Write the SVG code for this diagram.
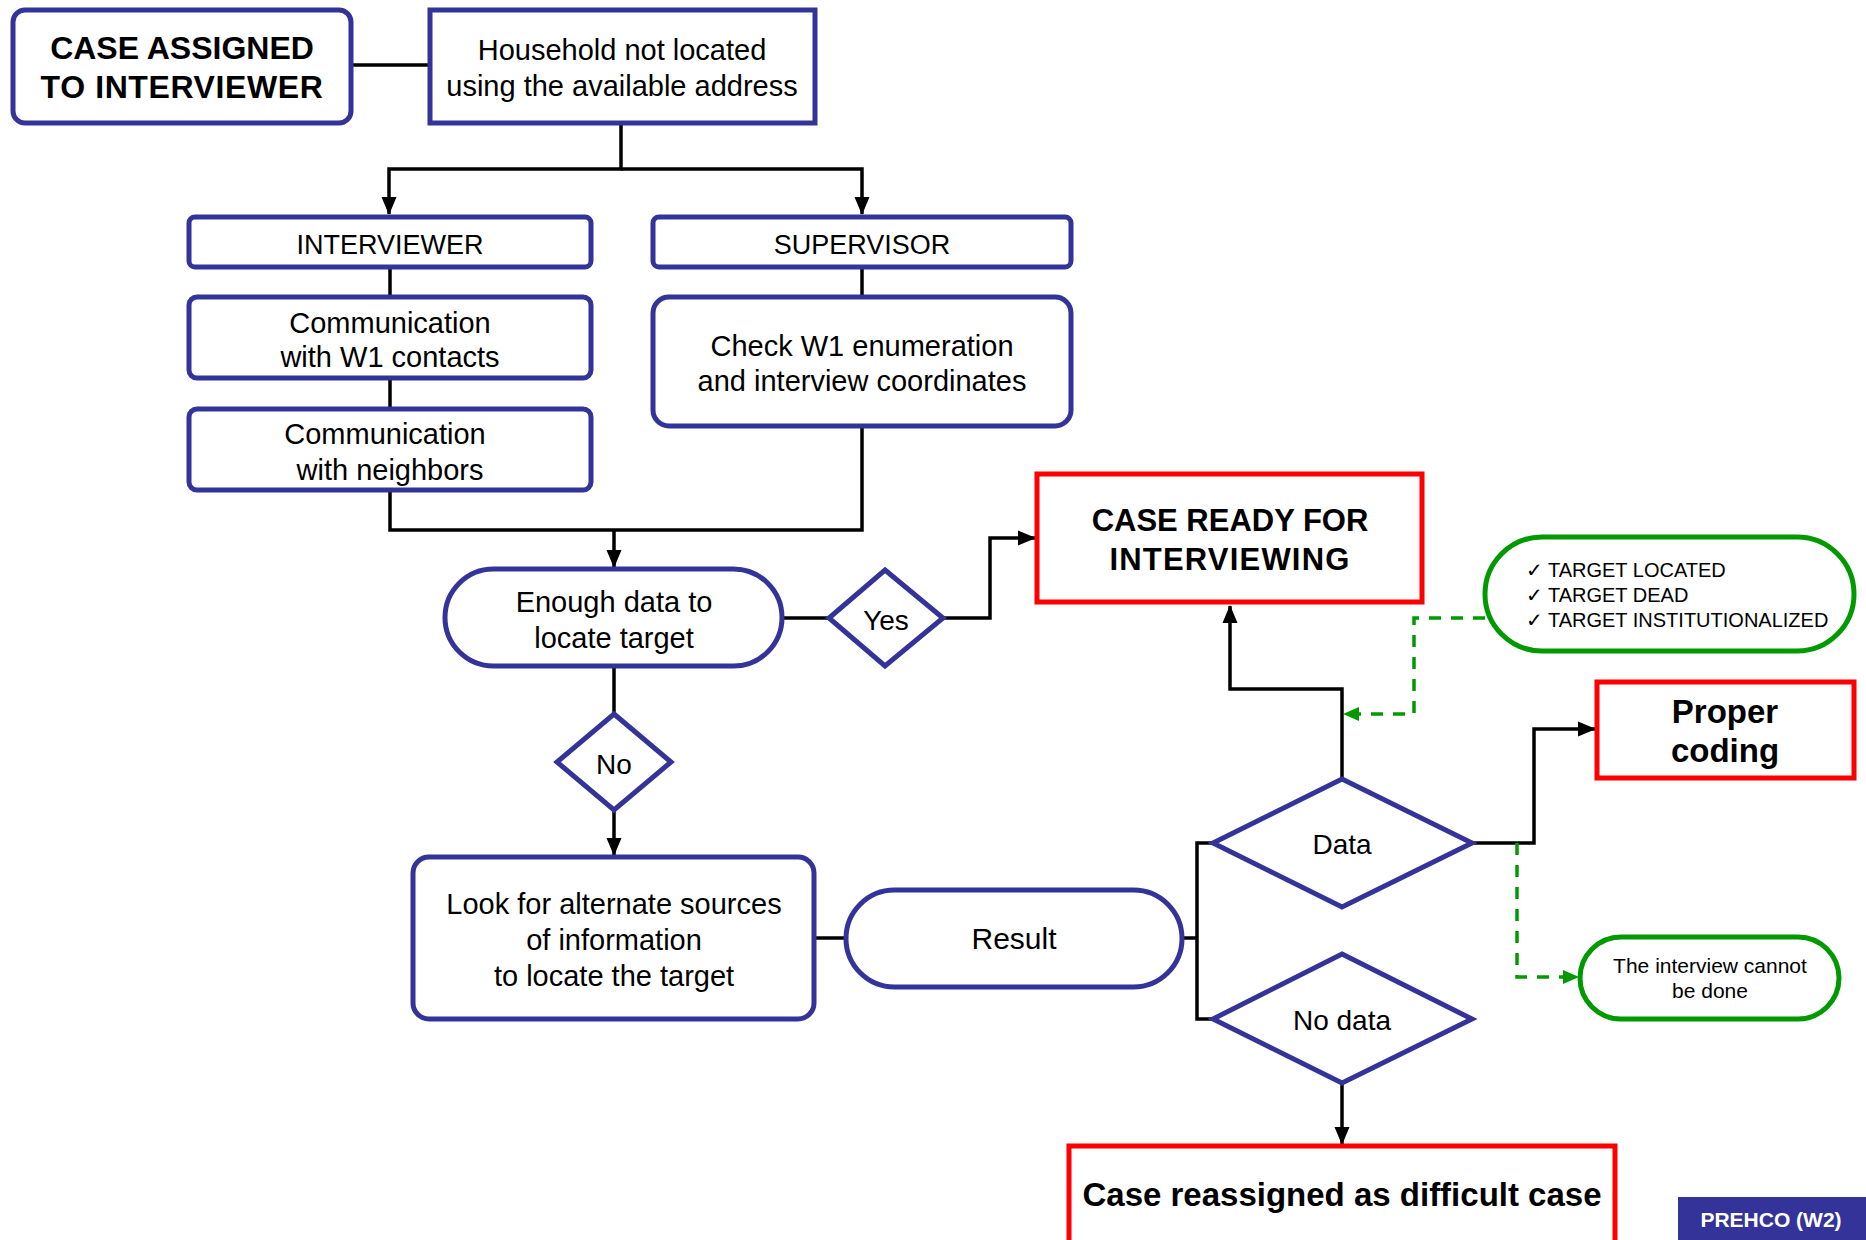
<svg xmlns="http://www.w3.org/2000/svg" width="1866" height="1240" viewBox="0 0 1866 1240">
<defs>
<marker id="ah" markerUnits="userSpaceOnUse" markerWidth="18" markerHeight="18" viewBox="0 0 18 18" refX="17" refY="9" orient="auto">
<path d="M0,1.5 L18,9 L0,16.5 Z" fill="#000"/>
</marker>
<marker id="ahg" markerUnits="userSpaceOnUse" markerWidth="16" markerHeight="16" viewBox="0 0 16 16" refX="15" refY="8" orient="auto">
<path d="M0,1 L16,8 L0,15 Z" fill="#009900"/>
</marker>
<style>
.b{fill:#fff;stroke:#333399;stroke-width:5}
.r{fill:#fff;stroke:#ff0000;stroke-width:5}
.g{fill:#fff;stroke:#009900;stroke-width:5}
.c{fill:none;stroke:#000;stroke-width:3.5}
.cg{fill:none;stroke:#009900;stroke-width:3.5;stroke-dasharray:12 10}
text{font-family:"Liberation Sans","DejaVu Sans",sans-serif;fill:#000;text-anchor:middle}
.t{font-size:29px}
.bd{font-weight:bold}
</style>
</defs>
<rect width="1866" height="1240" fill="#fff"/>
<g id="connectors">
<path class="c" d="M351,65 H430"/>
<path class="c" d="M621,123 V169 H389 V214" marker-end="url(#ah)"/>
<path class="c" d="M621,169 H862 V214" marker-end="url(#ah)"/>
<path class="c" d="M390,267 V297"/>
<path class="c" d="M390,378 V409"/>
<path class="c" d="M862,267 V297"/>
<path class="c" d="M390,490 V530 H862 V426"/>
<path class="c" d="M614,530 V567" marker-end="url(#ah)"/>
<path class="c" d="M782,618 H829"/>
<path class="c" d="M943,618 H990 V538 H1035" marker-end="url(#ah)"/>
<path class="c" d="M614,666 V714"/>
<path class="c" d="M614,810 V855" marker-end="url(#ah)"/>
<path class="c" d="M814,938 H846"/>
<path class="c" d="M1182,938 H1197"/>
<path class="c" d="M1213,843 H1197 V1019 H1213"/>
<path class="c" d="M1342,778 V689 H1230 V606" marker-end="url(#ah)"/>
<path class="c" d="M1472,843 H1534 V729 H1595" marker-end="url(#ah)"/>
<path class="c" d="M1342,1083 V1144" marker-end="url(#ah)"/>
<path class="cg" d="M1485,618 H1414 V714 H1344" marker-end="url(#ahg)"/>
<path class="cg" d="M1517,843 V977 H1578" marker-end="url(#ahg)"/>
</g>
<g id="case-assigned">
<rect class="b" x="13" y="10" width="338" height="113" rx="12"/>
<text class="bd" font-size="32" x="182" y="59">CASE ASSIGNED</text>
<text class="bd" font-size="32" x="182" y="98" letter-spacing="0.6">TO INTERVIEWER</text>
</g>
<g id="household">
<rect class="b" x="430" y="10" width="385" height="113"/>
<text class="t" x="622" y="60">Household not located</text>
<text class="t" x="622" y="96">using the available address</text>
</g>
<g id="interviewer">
<rect class="b" x="189" y="217" width="402" height="50" rx="6"/>
<text font-size="27" x="390" y="254">INTERVIEWER</text>
</g>
<g id="supervisor">
<rect class="b" x="653" y="217" width="418" height="50" rx="6"/>
<text font-size="27" x="862" y="254">SUPERVISOR</text>
</g>
<g id="comm-w1">
<rect class="b" x="189" y="297" width="402" height="81" rx="8"/>
<text font-size="29" x="390" y="333">Communication</text>
<text font-size="29" x="390" y="367">with W1 contacts</text>
</g>
<g id="comm-neighbors">
<rect class="b" x="189" y="409" width="402" height="81" rx="8"/>
<text font-size="29" x="385" y="444">Communication</text>
<text font-size="29" x="390" y="480">with neighbors</text>
</g>
<g id="check-w1">
<rect class="b" x="653" y="297" width="418" height="129" rx="16"/>
<text font-size="29" x="862" y="356">Check W1 enumeration</text>
<text font-size="29" x="862" y="391">and interview coordinates</text>
</g>
<g id="enough-data">
<rect class="b" x="445" y="569" width="337" height="97" rx="48.5"/>
<text class="t" x="614" y="612">Enough data to</text>
<text class="t" x="614" y="648">locate target</text>
</g>
<g id="yes">
<polygon class="b" points="885,570 943,618 885,666 829,618"/>
<text font-size="28" x="886" y="630">Yes</text>
</g>
<g id="no">
<polygon class="b" points="614,714 671,762 614,810 557,762"/>
<text font-size="28" x="614" y="774">No</text>
</g>
<g id="case-ready">
<rect class="r" x="1037" y="474" width="385" height="128"/>
<text class="bd" font-size="31" x="1230" y="531">CASE READY FOR</text>
<text class="bd" font-size="31" x="1230" y="570" letter-spacing="1.2">INTERVIEWING</text>
</g>
<g id="target-outcomes">
<rect class="g" x="1485" y="537" width="369" height="114" rx="57"/>
<text font-size="20" x="1526" y="577" style="text-anchor:start">✓ TARGET LOCATED</text>
<text font-size="20" x="1526" y="602" style="text-anchor:start">✓ TARGET DEAD</text>
<text font-size="20" x="1526" y="627" style="text-anchor:start">✓ TARGET INSTITUTIONALIZED</text>
</g>
<g id="proper-coding">
<rect class="r" x="1597" y="682" width="257" height="96"/>
<text class="bd" font-size="33" x="1725" y="723">Proper</text>
<text class="bd" font-size="33" x="1725" y="762">coding</text>
</g>
<g id="look-alternate">
<rect class="b" x="413" y="857" width="401" height="162" rx="16"/>
<text class="t" x="614" y="914">Look for alternate sources</text>
<text class="t" x="614" y="950">of information</text>
<text class="t" x="614" y="986">to locate the target</text>
</g>
<g id="result">
<rect class="b" x="846" y="890" width="336" height="97" rx="48.5"/>
<text font-size="30" x="1014" y="949">Result</text>
</g>
<g id="data">
<polygon class="b" points="1342,779 1472,843 1342,907 1213,843"/>
<text font-size="28" x="1342" y="854">Data</text>
</g>
<g id="no-data">
<polygon class="b" points="1342,954 1472,1019 1342,1083 1213,1019"/>
<text font-size="28" x="1342" y="1030">No data</text>
</g>
<g id="cannot-done">
<rect class="g" x="1580" y="937" width="259" height="82" rx="41"/>
<text font-size="21" x="1710" y="973">The interview cannot</text>
<text font-size="21" x="1710" y="998">be done</text>
</g>
<g id="reassigned">
<rect class="r" x="1069" y="1146" width="546" height="100"/>
<text class="bd" font-size="33" x="1342" y="1206">Case reassigned as difficult case</text>
</g>
<g id="prehco">
<rect x="1678" y="1197" width="188" height="43" fill="#333399"/>
<text class="bd" font-size="21" x="1771" y="1227" style="fill:#fff">PREHCO (W2)</text>
</g>
</svg>
